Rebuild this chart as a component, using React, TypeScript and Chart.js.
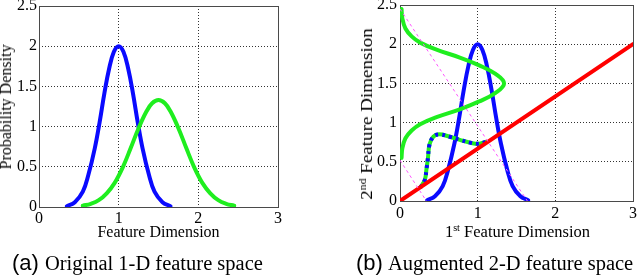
import React, { useEffect, useRef } from 'react';
import { Chart, registerables } from 'chart.js';

Chart.register(...registerables);

// ---- tick values / labels ----
const X_TICKS = [0, 1, 2, 3];
const X_TICK_LABELS = ['0', '1', '2', '3'];
const Y_TICKS = [0, 0.5, 1, 1.5, 2, 2.5];
const Y_TICK_LABELS = ['0', '0.5', '1', '1.5', '2', '2.5'];

// ---- blue density (class 1) ----
const BLUE_X = [0.35, 0.45, 0.55, 0.62, 0.70, 0.76, 0.82, 0.88, 0.94, 1.00, 1.06, 1.12, 1.18, 1.24, 1.30, 1.38, 1.45, 1.55, 1.65];
const BLUE_Y = [0.01, 0.06, 0.19, 0.40, 0.73, 1.05, 1.41, 1.72, 1.93, 2.00, 1.93, 1.72, 1.41, 1.05, 0.73, 0.40, 0.19, 0.06, 0.01];

// ---- green density (class 2), 1-D ----
const GREEN_X = [0.55, 0.65, 0.75, 0.85, 0.95, 1.05, 1.15, 1.25, 1.35, 1.42, 1.50, 1.58, 1.65, 1.75, 1.85, 1.95, 2.05, 2.15, 2.25, 2.35, 2.45];
const GREEN_Y = [0.016, 0.04, 0.085, 0.17, 0.30, 0.49, 0.73, 0.98, 1.19, 1.29, 1.33, 1.29, 1.19, 0.98, 0.73, 0.49, 0.30, 0.17, 0.085, 0.04, 0.016];

// ---- green density drawn along the 2nd dimension ----
const GREEN2_X = [0.02, 0.03, 0.07, 0.15, 0.26, 0.47, 0.77, 1.02, 1.23, 1.34, 1.23, 1.02, 0.77, 0.47, 0.26, 0.15, 0.07, 0.03, 0.02];
const GREEN2_Y = [2.45, 2.33, 2.20, 2.10, 2.02, 1.93, 1.83, 1.73, 1.62, 1.50, 1.38, 1.27, 1.17, 1.07, 0.98, 0.90, 0.80, 0.67, 0.55];

// ---- projected (dotted) curve ----
const PROJ_X = [0.26, 0.32, 0.34, 0.36, 0.38, 0.43, 0.50, 0.64, 0.77, 0.92, 1.02, 1.12];
const PROJ_Y = [0.17, 0.27, 0.40, 0.55, 0.72, 0.82, 0.85, 0.82, 0.78, 0.74, 0.73, 0.76];

// ---- red projection line ----
const RED_X = [0, 3];
const RED_Y = [0, 2];

// ---- magenta dashed helper lines ----
const MAG1_X = [0, 1.64];
const MAG1_Y = [2.45, 0];
const MAG2_X = [0, 0.34];
const MAG2_Y = [0.52, 0];

const pts = (xs: number[], ys: number[]) => xs.map((x, i) => ({ x, y: ys[i] }));

const SERIF = '"Liberation Serif", "Times New Roman", serif';
const SANS = '"Liberation Sans", Arial, sans-serif';

const BLUE = '#0a0aff';
const GREEN = '#1fee1f';
const RED = '#ff0000';
const MAGENTA = '#ff55ff';

const boxPlugin = {
  id: 'box',
  beforeDatasetsDraw(chart: any) {
    const { ctx, chartArea: a } = chart;
    const L = Math.round(a.left), R = Math.round(a.right), T = Math.round(a.top), B = Math.round(a.bottom);
    ctx.save();
    ctx.strokeStyle = '#4a4a4a';
    ctx.lineWidth = 1;
    ctx.setLineDash([]);
    ctx.strokeRect(L + 0.5, T + 0.5, R - L, B - T);
    ctx.restore();
  },
};

function makeScales(xPad: number, yPad: number, yWidth: number, xHeight: number) {
  const tickFont = { family: SERIF, size: 16, lineHeight: 1.2 };
  return {
    x: {
      type: 'linear',
      min: 0,
      max: 3,
      afterBuildTicks: (s: any) => { s.ticks = X_TICKS.map((v) => ({ value: v })); },
      afterFit: (s: any) => { s.height = xHeight; },
      grid: { color: '#333', lineWidth: 1, drawTicks: false },
      border: { display: false, dash: [1, 2] },
      ticks: {
        padding: xPad, color: '#000', font: tickFont, maxRotation: 0, autoSkip: false,
        callback: (_v: any, i: number) => X_TICK_LABELS[i],
      },
    },
    y: {
      type: 'linear',
      min: 0,
      max: 2.5,
      afterBuildTicks: (s: any) => { s.ticks = Y_TICKS.map((v) => ({ value: v })); },
      afterFit: (s: any) => { s.width = yWidth; },
      grid: { color: '#333', lineWidth: 1, drawTicks: false },
      border: { display: false, dash: [1, 2] },
      ticks: {
        padding: yPad, color: '#000', font: tickFont, autoSkip: false,
        callback: (_v: any, i: number) => Y_TICK_LABELS[i],
      },
    },
  };
}

function line(data: any[], color: string, width: number, order: number, extra: any = {}) {
  return {
    data,
    showLine: true,
    borderColor: color,
    backgroundColor: color,
    borderWidth: width,
    pointRadius: 0,
    pointHoverRadius: 0,
    tension: 0.4,
    borderCapStyle: 'round',
    borderJoinStyle: 'round',
    fill: false,
    order,
    ...extra,
  };
}

function baseOptions(padding: any, scales: any) {
  return {
    responsive: false,
    animation: false,
    devicePixelRatio: 1,
    layout: { padding },
    events: [],
    plugins: { legend: { display: false }, tooltip: { enabled: false } },
    scales,
  };
}

export default function App() {
  const refA = useRef<HTMLCanvasElement>(null);
  const refB = useRef<HTMLCanvasElement>(null);

  useEffect(() => {
    const a = new Chart(refA.current as HTMLCanvasElement, {
      type: 'scatter',
      data: {
        datasets: [
          line(pts(BLUE_X, BLUE_Y), BLUE, 4, 2),
          line(pts(GREEN_X, GREEN_Y), GREEN, 4, 1),
        ],
      },
      options: baseOptions({ left: 0, right: 42, top: 16, bottom: 0 }, makeScales(2, 2, 39, 70)) as any,
      plugins: [boxPlugin],
    } as any);

    const b = new Chart(refB.current as HTMLCanvasElement, {
      type: 'scatter',
      data: {
        datasets: [
          line(pts(BLUE_X, BLUE_Y), BLUE, 4, 6),
          line(pts(GREEN2_X, GREEN2_Y), GREEN, 4, 5),
          line(pts(PROJ_X, PROJ_Y), GREEN, 4, 4, { borderCapStyle: 'butt' }),
          line(pts(PROJ_X, PROJ_Y), BLUE, 4, 3, { borderDash: [3, 4], borderCapStyle: 'butt' }),
          line(pts(RED_X, RED_Y), RED, 4, 2, { tension: 0 }),
          line(pts(MAG1_X, MAG1_Y), MAGENTA, 1, 1, { tension: 0, borderDash: [3, 3], borderCapStyle: 'butt' }),
          line(pts(MAG2_X, MAG2_Y), MAGENTA, 1, 1, { tension: 0, borderDash: [3, 3], borderCapStyle: 'butt' }),
        ],
      },
      options: baseOptions({ left: 0, right: 5, top: 15, bottom: 0 }, makeScales(3, 3, 80, 76)) as any,
      plugins: [boxPlugin],
    } as any);

    return () => { a.destroy(); b.destroy(); };
  }, []);

  const txt: React.CSSProperties = { position: 'absolute', whiteSpace: 'nowrap', fontFamily: SERIF, color: '#000', lineHeight: '16px' };

  return (
    <div style={{ position: 'absolute', left: 0, top: 0, width: 640, height: 277, overflow: 'hidden', background: '#fff' }}>
      <canvas ref={refA} width={320} height={287} style={{ position: 'absolute', left: 0, top: -10, width: 320, height: 287 }} />
      <canvas ref={refB} width={320} height={287} style={{ position: 'absolute', left: 320, top: -10, width: 320, height: 287 }} />

      {/* left axis titles */}
      <div style={{ ...txt, fontSize: 16, left: 6, top: 106.5, transform: 'translate(-50%, -50%) rotate(-90deg)' }}>Probability Density</div>
      <div style={{ ...txt, fontSize: 16, left: 158.5, top: 224, transform: 'translateX(-50%)' }}>Feature Dimension</div>

      {/* right axis titles */}
      <div style={{ ...txt, fontSize: 17, left: 367, top: 114, transform: 'translate(-50%, -50%) rotate(-90deg) scaleX(1.12)' }}>
        2<sup style={{ fontSize: '0.62em', verticalAlign: '0.55em', lineHeight: 0 }}>nd</sup> Feature Dimension
      </div>
      <div style={{ ...txt, fontSize: 16.5, left: 517.5, top: 224, transform: 'translateX(-50%)' }}>
        1<sup style={{ fontSize: '0.62em', verticalAlign: '0.55em', lineHeight: 0 }}>st</sup> Feature Dimension
      </div>

      {/* captions */}
      <div style={{ ...txt, fontSize: 20.5, lineHeight: '24px', left: 12, top: 251 }}>
        <span style={{ fontFamily: SANS, fontSize: 22 }}>(a)</span><span style={{ marginLeft: 6 }}>Original 1-D feature space</span>
      </div>
      <div style={{ ...txt, fontSize: 20.5, lineHeight: '24px', left: 356, top: 251 }}>
        <span style={{ fontFamily: SANS, fontSize: 22 }}>(b)</span><span style={{ marginLeft: 5 }}>Augmented 2-D feature space</span>
      </div>
    </div>
  );
}
